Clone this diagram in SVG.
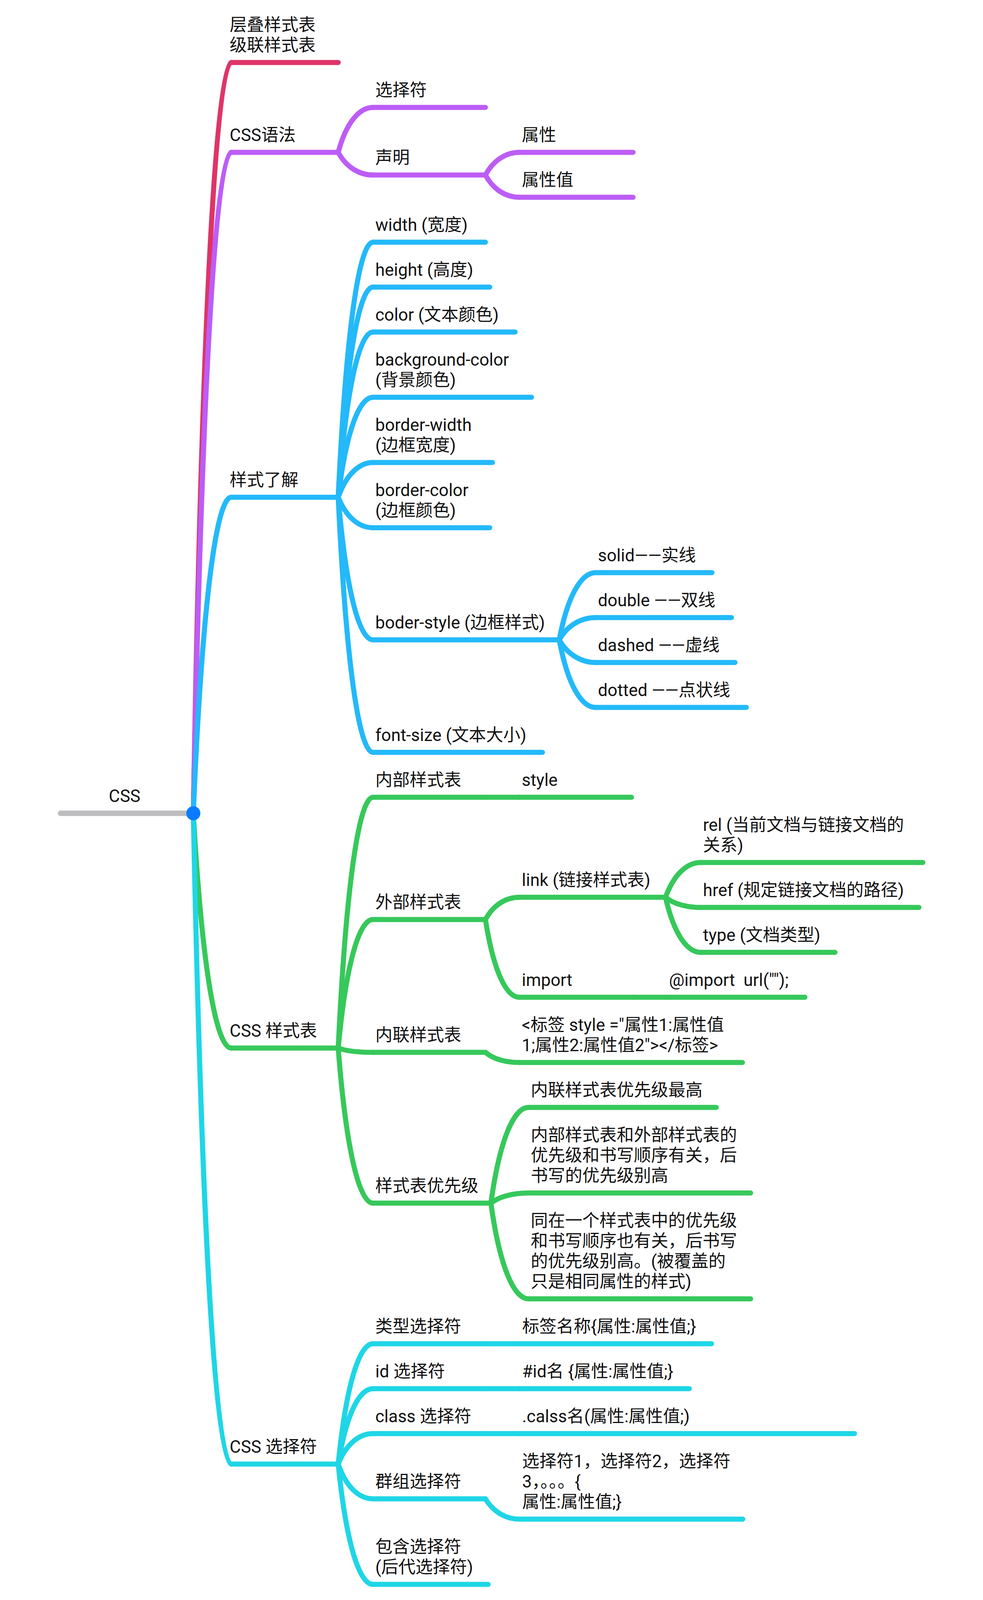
<svg xmlns="http://www.w3.org/2000/svg" width="2517" height="5429" viewBox="0 0 2517 5429">
<style>
text{font-family:Roboto,"Noto Sans CJK SC","Noto Sans",sans-serif;font-size:44px;fill:#111;white-space:pre}
.l{fill:none;stroke-width:13;stroke-linecap:round;stroke-linejoin:round}
.c1{stroke:#DF3468}.c2{stroke:#BC5DF6}.c3{stroke:#23B9FA}.c4{stroke:#36C85B}.c5{stroke:#1ED6E6}
</style>
<rect width="2517" height="5429" fill="#fff"/>
<g id="connectors">
<path class="l c1" d="M495 2082 C518 775 555 160 592 160"/>
<path class="l c2" d="M495 2082 C518 931 555 390 592 390"/>
<path class="l c3" d="M495 2082 C518 1532 555 1273 592 1273"/>
<path class="l c4" d="M495 2082 C518 2491 555 2683 592 2683"/>
<path class="l c5" d="M495 2082 C518 3215 555 3748 592 3748"/>
<path class="l c2" d="M866 390 C887 312 921 275 955 275"/>
<path class="l c2" d="M866 390 C887 429 921 448 955 448"/>
<path class="l c2" d="M1243 448 C1264 409 1297 390 1330 390"/>
<path class="l c2" d="M1243 448 C1264 487 1297 505 1330 505"/>
<path class="l c3" d="M866 1273 C887 829 921 620 955 620"/>
<path class="l c3" d="M866 1273 C887 907 921 735 955 735"/>
<path class="l c3" d="M866 1273 C887 985 921 850 955 850"/>
<path class="l c3" d="M866 1273 C887 1099 921 1017 955 1017"/>
<path class="l c3" d="M866 1273 C887 1213 921 1184 955 1184"/>
<path class="l c3" d="M866 1273 C887 1326 921 1351 955 1351"/>
<path class="l c3" d="M866 1273 C887 1521 921 1638 955 1638"/>
<path class="l c3" d="M866 1273 C887 1717 921 1926 955 1926"/>
<path class="l c3" d="M1432 1638 C1454 1521 1490 1466 1525 1466"/>
<path class="l c3" d="M1432 1638 C1454 1599 1490 1581 1525 1581"/>
<path class="l c3" d="M1432 1638 C1454 1677 1490 1696 1525 1696"/>
<path class="l c3" d="M1432 1638 C1454 1756 1490 1811 1525 1811"/>
<path class="l c4" d="M866 2683 C887 2246 921 2041 955 2041"/>
<path class="l c4" d="M866 2683 C887 2459 921 2354 955 2354"/>
<path class="l c4" d="M866 2683 C887 2691 921 2694 955 2694"/>
<path class="l c4" d="M866 2683 C887 2953 921 3080 955 3080"/>
<path class="l c4" d="M1243 2041 L1330 2041"/>
<path class="l c4" d="M1243 2354 C1264 2315 1297 2297 1330 2297"/>
<path class="l c4" d="M1243 2354 C1264 2489 1297 2553 1330 2553"/>
<path class="l c4" d="M1704 2297 C1726 2237 1760 2208 1794 2208"/>
<path class="l c4" d="M1704 2297 C1726 2315 1760 2323 1794 2323"/>
<path class="l c4" d="M1704 2297 C1726 2393 1760 2438 1794 2438"/>
<path class="l c4" d="M1622 2553 L1707 2553"/>
<path class="l c4" d="M1243 2694 C1264 2712 1297 2720 1330 2720"/>
<path class="l c4" d="M1257 3080 C1280 2913 1317 2835 1353 2835"/>
<path class="l c4" d="M1257 3080 C1280 3062 1317 3054 1353 3054"/>
<path class="l c4" d="M1257 3080 C1280 3247 1317 3325 1353 3325"/>
<path class="l c5" d="M866 3748 C887 3539 921 3440 955 3440"/>
<path class="l c5" d="M866 3748 C887 3617 921 3555 955 3555"/>
<path class="l c5" d="M866 3748 C887 3695 921 3670 955 3670"/>
<path class="l c5" d="M866 3748 C887 3809 921 3837 955 3837"/>
<path class="l c5" d="M866 3748 C887 3957 921 4056 955 4056"/>
<path class="l c5" d="M1243 3440 L1330 3440"/>
<path class="l c5" d="M1243 3555 L1330 3555"/>
<path class="l c5" d="M1243 3670 L1330 3670"/>
<path class="l c5" d="M1243 3837 C1264 3872 1297 3889 1330 3889"/>
</g>
<g id="root">
<path d="M155 2082 L495 2082" fill="none" stroke="#BEBEC1" stroke-width="14" stroke-linecap="round"/>
<text x="319" y="2053" text-anchor="middle">CSS</text>
<circle cx="495" cy="2082" r="18" fill="#0A7BFF"/>
</g>
<g id="n-cascade"><path class="l c1" d="M592 160 L866 160"/><text x="588" y="79">层叠样式表</text><text x="588" y="131">级联样式表</text></g>
<g id="n-syntax"><path class="l c2" d="M592 390 L866 390"/><text x="588" y="361">CSS语法</text></g>
<g id="n-selector"><path class="l c2" d="M955 275 L1243 275"/><text x="961" y="246">选择符</text></g>
<g id="n-declare"><path class="l c2" d="M955 448 L1243 448"/><text x="961" y="419">声明</text></g>
<g id="n-prop"><path class="l c2" d="M1330 390 L1621 390"/><text x="1336" y="361">属性</text></g>
<g id="n-value"><path class="l c2" d="M1330 505 L1621 505"/><text x="1336" y="476">属性值</text></g>
<g id="n-styles"><path class="l c3" d="M592 1273 L866 1273"/><text x="588" y="1244">样式了解</text></g>
<g id="n-width"><path class="l c3" d="M955 620 L1243 620"/><text x="961" y="591">width (宽度)</text></g>
<g id="n-height"><path class="l c3" d="M955 735 L1254 735"/><text x="961" y="706">height (高度)</text></g>
<g id="n-color"><path class="l c3" d="M955 850 L1319 850"/><text x="961" y="821">color (文本颜色)</text></g>
<g id="n-bgcolor"><path class="l c3" d="M955 1017 L1361 1017"/><text x="961" y="936">background-color</text><text x="961" y="988">(背景颜色)</text></g>
<g id="n-bwidth"><path class="l c3" d="M955 1184 L1261 1184"/><text x="961" y="1103">border-width</text><text x="961" y="1155">(边框宽度)</text></g>
<g id="n-bcolor"><path class="l c3" d="M955 1351 L1254 1351"/><text x="961" y="1270">border-color</text><text x="961" y="1322">(边框颜色)</text></g>
<g id="n-bstyle"><path class="l c3" d="M955 1638 L1432 1638"/><text x="961" y="1609">boder-style (边框样式)</text></g>
<g id="n-solid"><path class="l c3" d="M1525 1466 L1823 1466"/><text x="1531" y="1437">solid——实线</text></g>
<g id="n-double"><path class="l c3" d="M1525 1581 L1873 1581"/><text x="1531" y="1552">double ——双线</text></g>
<g id="n-dashed"><path class="l c3" d="M1525 1696 L1882 1696"/><text x="1531" y="1667">dashed ——虚线</text></g>
<g id="n-dotted"><path class="l c3" d="M1525 1811 L1911 1811"/><text x="1531" y="1782">dotted ——点状线</text></g>
<g id="n-fontsize"><path class="l c3" d="M955 1926 L1389 1926"/><text x="961" y="1897">font-size (文本大小)</text></g>
<g id="n-sheets"><path class="l c4" d="M592 2683 L866 2683"/><text x="588" y="2654">CSS 样式表</text></g>
<g id="n-internal"><path class="l c4" d="M955 2041 L1243 2041"/><text x="961" y="2012">内部样式表</text></g>
<g id="n-style"><path class="l c4" d="M1330 2041 L1617 2041"/><text x="1336" y="2012">style</text></g>
<g id="n-external"><path class="l c4" d="M955 2354 L1243 2354"/><text x="961" y="2325">外部样式表</text></g>
<g id="n-link"><path class="l c4" d="M1330 2297 L1704 2297"/><text x="1336" y="2268">link (链接样式表)</text></g>
<g id="n-rel"><path class="l c4" d="M1794 2208 L2363 2208"/><text x="1800" y="2127">rel (当前文档与链接文档的</text><text x="1800" y="2179">关系)</text></g>
<g id="n-href"><path class="l c4" d="M1794 2323 L2353 2323"/><text x="1800" y="2294">href (规定链接文档的路径)</text></g>
<g id="n-type"><path class="l c4" d="M1794 2438 L2138 2438"/><text x="1800" y="2409">type (文档类型)</text></g>
<g id="n-import"><path class="l c4" d="M1330 2553 L1622 2553"/><text x="1336" y="2524">import</text></g>
<g id="n-importurl"><path class="l c4" d="M1707 2553 L2061 2553"/><text x="1713" y="2524">@import  url("");</text></g>
<g id="n-inline"><path class="l c4" d="M955 2694 L1243 2694"/><text x="961" y="2665">内联样式表</text></g>
<g id="n-inlinecode"><path class="l c4" d="M1330 2720 L1901 2720"/><text x="1336" y="2639">&lt;标签 style ="属性1:属性值</text><text x="1336" y="2691">1;属性2:属性值2"&gt;&lt;/标签&gt;</text></g>
<g id="n-priority"><path class="l c4" d="M955 3080 L1257 3080"/><text x="961" y="3051">样式表优先级</text></g>
<g id="n-p1"><path class="l c4" d="M1353 2835 L1834 2835"/><text x="1359" y="2806">内联样式表优先级最高</text></g>
<g id="n-p2"><path class="l c4" d="M1353 3054 L1922 3054"/><text x="1359" y="2921">内部样式表和外部样式表的</text><text x="1359" y="2973">优先级和书写顺序有关，后</text><text x="1359" y="3025">书写的优先级别高</text></g>
<g id="n-p3"><path class="l c4" d="M1353 3325 L1922 3325"/><text x="1359" y="3140">同在一个样式表中的优先级</text><text x="1359" y="3192">和书写顺序也有关，后书写</text><text x="1359" y="3244">的优先级别高。(被覆盖的</text><text x="1359" y="3296">只是相同属性的样式)</text></g>
<g id="n-selectors"><path class="l c5" d="M592 3748 L866 3748"/><text x="588" y="3719">CSS 选择符</text></g>
<g id="n-typesel"><path class="l c5" d="M955 3440 L1243 3440"/><text x="961" y="3411">类型选择符</text></g>
<g id="n-typesel-c"><path class="l c5" d="M1330 3440 L1822 3440"/><text x="1337" y="3411">标签名称{属性:属性值;}</text></g>
<g id="n-idsel"><path class="l c5" d="M955 3555 L1243 3555"/><text x="961" y="3526">id 选择符</text></g>
<g id="n-idsel-c"><path class="l c5" d="M1330 3555 L1765 3555"/><text x="1337" y="3526">#id名 {属性:属性值;}</text></g>
<g id="n-classsel"><path class="l c5" d="M955 3670 L1243 3670"/><text x="961" y="3641">class 选择符</text></g>
<g id="n-classsel-c"><path class="l c5" d="M1330 3670 L2188 3670"/><text x="1337" y="3641">.calss名(属性:属性值;)</text></g>
<g id="n-groupsel"><path class="l c5" d="M955 3837 L1243 3837"/><text x="961" y="3808">群组选择符</text></g>
<g id="n-groupsel-c"><path class="l c5" d="M1330 3889 L1902 3889"/><text x="1337" y="3756">选择符1，选择符2，选择符</text><text x="1337" y="3808">3，。。。{</text><text x="1337" y="3860">属性:属性值;}</text></g>
<g id="n-descsel"><path class="l c5" d="M955 4056 L1250 4056"/><text x="961" y="3975">包含选择符</text><text x="961" y="4027">(后代选择符)</text></g>
</svg>
